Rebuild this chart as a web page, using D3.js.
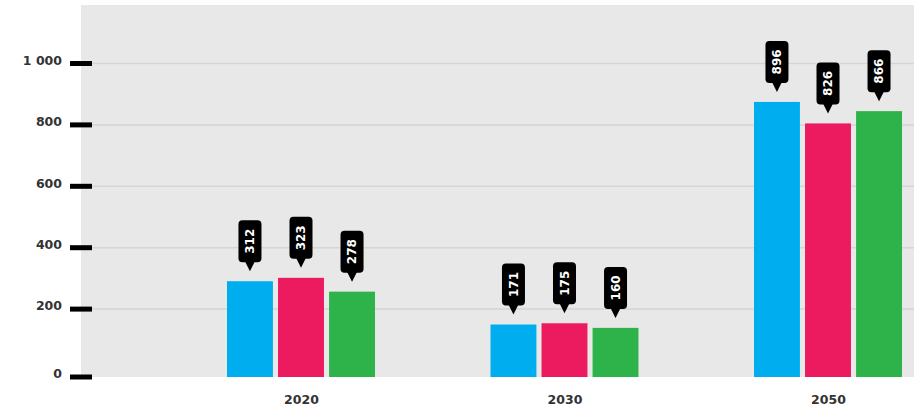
<!DOCTYPE html>
<html>
<head>
<meta charset="utf-8">
<script src="https://cdn.jsdelivr.net/npm/d3@7"></script>
<style>
  body { margin: 0; background: #ffffff; }
  svg { display: block; }
  text { font-family: "DejaVu Sans", Verdana, sans-serif; }
</style>
</head>
<body>
<div id="chart"></div>
<script>
var years = ["2020", "2030", "2050"];
var series = ["a", "b", "c"];
var valuesA = [312, 171, 896];
var valuesB = [323, 175, 826];
var valuesC = [278, 160, 866];
var yTicks = [0, 200, 400, 600, 800, 1000];
var colors = ["#00adef", "#ec1a5f", "#2db34a"];

var W = 914, H = 410;
var plotLeft = 81, plotTop = 5, base = 377;

var svg = d3.select("#chart").append("svg")
  .attr("width", W)
  .attr("height", H);

var x = d3.scalePoint().domain(years).range([301, 828]);
var xs = d3.scaleBand().domain(series).range([-74, 74]).paddingInner(0.1);
var y = d3.scaleLinear().domain([0, 1000]).range([370.5, 63.5]);
var shift = base - y(0);
var col = d3.scaleOrdinal().domain(series).range(colors);

// background
svg.append("rect")
  .attr("x", plotLeft).attr("y", plotTop)
  .attr("width", W - plotLeft).attr("height", base - plotTop)
  .style("fill", "#e8e8e8");

// gridlines
svg.append("g").selectAll("line")
  .data(yTicks.filter(function(d){ return d > 0; }))
  .join("line")
  .attr("x1", plotLeft).attr("x2", W)
  .attr("y1", function(d){ return y(d); })
  .attr("y2", function(d){ return y(d); })
  .style("stroke", "#d5d5d5")
  .style("stroke-width", 1.5);

// y axis
var yAxis = svg.append("g")
  .attr("transform", "translate(92,0)")
  .call(d3.axisLeft(y).tickValues(yTicks).tickSize(22).tickPadding(8)
    .tickFormat(function(d){ return d >= 1000 ? d3.format(",")(d).replace(",", " ") : d; }));
yAxis.select(".domain").remove();
yAxis.selectAll(".tick")
  .attr("transform", function(d){ return "translate(0," + (d === 0 ? base : y(d)) + ")"; });
yAxis.selectAll(".tick line")
  .style("stroke", "#000").style("stroke-width", 5);
yAxis.selectAll(".tick text")
  .attr("dy", "0.1em")
  .style("font-size", "12.5px").style("font-weight", "bold").style("fill", "#333");

// x axis
var xAxis = svg.append("g")
  .attr("transform", "translate(0," + base + ")")
  .call(d3.axisBottom(x).tickSize(0).tickPadding(18));
xAxis.select(".domain").remove();
xAxis.selectAll(".tick text")
  .style("font-size", "12.5px").style("font-weight", "bold").style("fill", "#333");

// data rows
var rows = [];
years.forEach(function(yr, i){
  rows.push({yr: yr, s: "a", v: valuesA[i]});
  rows.push({yr: yr, s: "b", v: valuesB[i]});
  rows.push({yr: yr, s: "c", v: valuesC[i]});
});

// bars
svg.append("g").selectAll("rect")
  .data(rows)
  .join("rect")
  .attr("x", function(d){ return x(d.yr) + xs(d.s); })
  .attr("y", function(d){ return y(d.v) + shift; })
  .attr("width", xs.bandwidth())
  .attr("height", function(d){ return y(0) - y(d.v); })
  .style("fill", function(d){ return col(d.s); });

// callouts
var bw = 23, bh = 42, ph = 9, pw = 5, gap = 10;
var call = svg.append("g").selectAll("g")
  .data(rows)
  .join("g")
  .attr("transform", function(d){
    var cx = x(d.yr) + xs(d.s) + xs.bandwidth() / 2;
    var tip = y(d.v) + shift - gap;
    return "translate(" + cx + "," + tip + ")";
  });
call.append("rect")
  .attr("x", -bw / 2).attr("y", -ph - bh)
  .attr("width", bw).attr("height", bh)
  .attr("rx", 4).attr("ry", 4)
  .style("fill", "#000");
call.append("path")
  .attr("d", "M" + (-pw) + "," + (-ph - 1) + "L" + pw + "," + (-ph - 1) + "L0,0Z")
  .style("fill", "#000");
call.append("text")
  .attr("transform", "translate(0," + (-ph - bh / 2) + ") rotate(-90)")
  .attr("text-anchor", "middle")
  .attr("dy", "0.36em")
  .style("font-size", "12px").style("font-weight", "bold").style("fill", "#fff")
  .text(function(d){ return d.v; });
</script>
</body>
</html>
